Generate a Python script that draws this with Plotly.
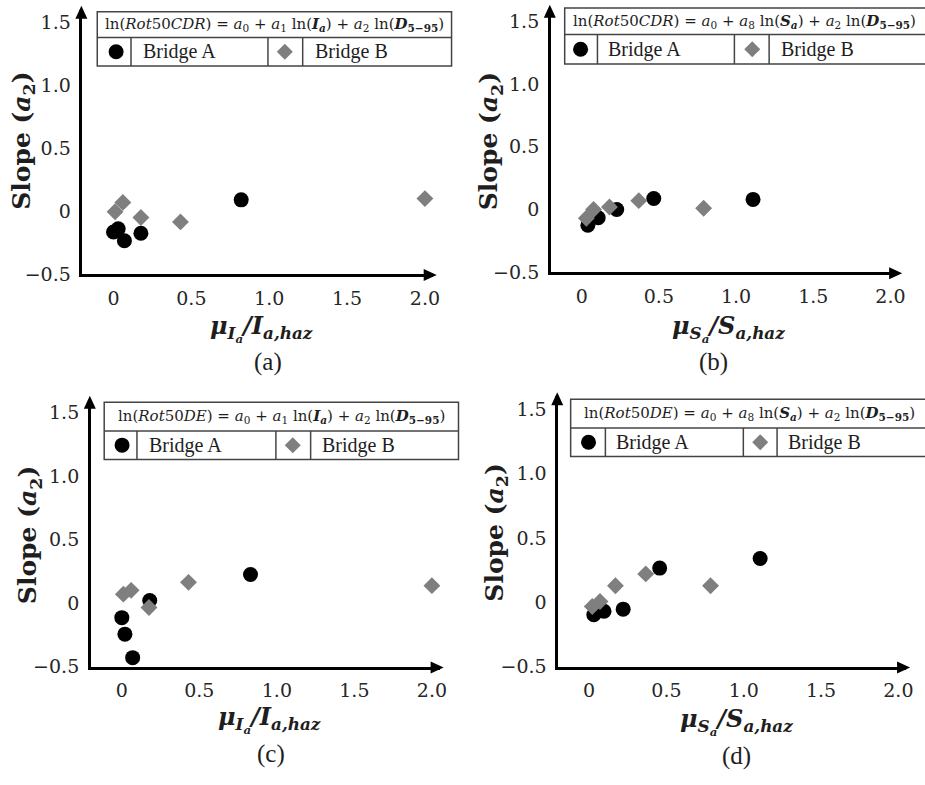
import plotly.graph_objects as go

W, H = 925, 785

# ---------------- data ----------------
a_bridgeA_x = [0.0, 0.03, 0.07, 0.176, 0.82]
a_bridgeA_y = [-0.165, -0.14, -0.235, -0.175, 0.09]
a_bridgeB_x = [0.01, 0.06, 0.176, 0.43, 2.0]
a_bridgeB_y = [-0.005, 0.07, -0.05, -0.085, 0.10]

b_bridgeA_x = [0.04, 0.107, 0.227, 0.467, 1.11]
b_bridgeA_y = [-0.126, -0.066, 0.0, 0.087, 0.08]
b_bridgeB_x = [0.03, 0.077, 0.18, 0.37, 0.79]
b_bridgeB_y = [-0.07, 0.0, 0.02, 0.07, 0.01]

c_bridgeA_x = [0.0, 0.02, 0.07, 0.18, 0.83]
c_bridgeA_y = [-0.115, -0.245, -0.43, 0.02, 0.225]
c_bridgeB_x = [0.01, 0.06, 0.175, 0.43, 2.0]
c_bridgeB_y = [0.07, 0.10, -0.035, 0.163, 0.137]

d_bridgeA_x = [0.03, 0.096, 0.22, 0.456, 1.106]
d_bridgeA_y = [-0.097, -0.07, -0.054, 0.265, 0.34]
d_bridgeB_x = [0.02, 0.07, 0.17, 0.366, 0.785]
d_bridgeB_y = [-0.033, 0.005, 0.128, 0.22, 0.128]

x_tick_vals = [0, 0.5, 1.0, 1.5, 2.0]
x_tick_text = ["0", "0.5", "1.0", "1.5", "2.0"]
y_tick_vals = [-0.5, 0, 0.5, 1.0, 1.5]
y_tick_text = ["\u22120.5", "0", "0.5", "1.0", "1.5"]

series_names = ["Bridge A", "Bridge B"]
panel_labels = ["(a)", "(b)", "(c)", "(d)"]
equations = [
    "ln(<i>Rot</i>50<i>CDR</i>) = <i>a</i><sub>0</sub> + <i>a</i><sub>1</sub> ln(<b><i>I</i></b><sub><b><i>a</i></b></sub>) + <i>a</i><sub>2</sub> ln(<b><i>D</i></b><sub><b>5\u221295</b></sub>)",
    "ln(<i>Rot</i>50<i>CDR</i>) = <i>a</i><sub>0</sub> + <i>a</i><sub>8</sub> ln(<b><i>S</i></b><sub><b><i>a</i></b></sub>) + <i>a</i><sub>2</sub> ln(<b><i>D</i></b><sub><b>5\u221295</b></sub>)",
    "ln(<i>Rot</i>50<i>DE</i>) = <i>a</i><sub>0</sub> + <i>a</i><sub>1</sub> ln(<b><i>I</i></b><sub><b><i>a</i></b></sub>) + <i>a</i><sub>2</sub> ln(<b><i>D</i></b><sub><b>5\u221295</b></sub>)",
    "ln(<i>Rot</i>50<i>DE</i>) = <i>a</i><sub>0</sub> + <i>a</i><sub>8</sub> ln(<b><i>S</i></b><sub><b><i>a</i></b></sub>) + <i>a</i><sub>2</sub> ln(<b><i>D</i></b><sub><b>5\u221295</b></sub>)",
]
x_titles = [
    "<b><i>\u03bc<sub>I<sub>a</sub></sub>/I<sub>a,haz</sub></i></b>",
    "<b><i>\u03bc<sub>S<sub>a</sub></sub>/S<sub>a,haz</sub></i></b>",
    "<b><i>\u03bc<sub>I<sub>a</sub></sub>/I<sub>a,haz</sub></i></b>",
    "<b><i>\u03bc<sub>S<sub>a</sub></sub>/S<sub>a,haz</sub></i></b>",
]
y_title = "<b>Slope (<i>a</i><sub>2</sub>)</b>"

data = [
    (a_bridgeA_x, a_bridgeA_y, a_bridgeB_x, a_bridgeB_y),
    (b_bridgeA_x, b_bridgeA_y, b_bridgeB_x, b_bridgeB_y),
    (c_bridgeA_x, c_bridgeA_y, c_bridgeB_x, c_bridgeB_y),
    (d_bridgeA_x, d_bridgeA_y, d_bridgeB_x, d_bridgeB_y),
]

# ---------------- layout geometry (page pixels) ----------------
panels_px = [
    (83, 436, 278, 10),
    (555, 905, 276, 9),
    (91.5, 443, 676, 405.5),
    (562.5, 913, 676, 402),
]
legend_px = [
    dict(l=98, r=455, t=12, m=38, b=67, d=[132, 270, 305], cx=117, dx=287, ta=142, tb=315, eq=104),
    dict(l=569, r=940, t=8, m=35, b=65, d=[602, 740, 775], cx=585, dx=758, ta=611, tb=785, eq=575),
    dict(l=105, r=462, t=408, m=437, b=466, d=[138, 278, 313], cx=123, dx=295, ta=148, tb=322, eq=117),
    dict(l=575, r=940, t=405, m=434, b=463, d=[610, 749, 783], cx=593, dx=766, ta=619, tb=792, eq=586),
]
xtitle_px = [(263, 333), (734, 333), (272, 730), (742, 732)]
ytitle_px = [(23, 143), (494, 143), (30, 543), (500, 540)]
plabel_px = [(270, 367), (719, 367), (273, 765), (742, 767)]


def px(x):
    return x / W


def py(y):
    return 1 - y / H


SERIF = "DejaVu Serif"
TICK_FONT = dict(family=SERIF, size=19, color="#262626")
TXT = "#1e1e1e"
colors = ["#000000", "#7f7f7f"]

fig = go.Figure()
shapes = []
annotations = []

for i in range(4):
    xa = "x" if i == 0 else f"x{i+1}"
    ya = "y" if i == 0 else f"y{i+1}"
    ax, ay, bx, by = data[i]
    fig.add_trace(go.Scatter(x=ax, y=ay, mode="markers", name=series_names[0], xaxis=xa, yaxis=ya,
                             marker=dict(symbol="circle", size=15, color=colors[0]), showlegend=False,
                             cliponaxis=False))
    fig.add_trace(go.Scatter(x=bx, y=by, mode="markers", name=series_names[1], xaxis=xa, yaxis=ya,
                             marker=dict(symbol="diamond", size=13, color=colors[1]), showlegend=False,
                             cliponaxis=False))
    l, r, b, t = panels_px[i]
    axis_common = dict(showline=True, linewidth=2.5, linecolor="black", showgrid=False, zeroline=False,
                       ticks="", tickfont=TICK_FONT, fixedrange=True)
    fig.layout[("xaxis" if i == 0 else f"xaxis{i+1}")] = dict(
        domain=[px(l), px(r)], range=[-0.2, 2.05], anchor=ya,
        tickvals=x_tick_vals, ticktext=x_tick_text, ticklabelstandoff=5, **axis_common)
    fig.layout[("yaxis" if i == 0 else f"yaxis{i+1}")] = dict(
        domain=[py(b), py(t)], range=[-0.5, 1.6], anchor=xa,
        tickvals=y_tick_vals, ticktext=y_tick_text, ticklabelstandoff=5, **axis_common)

    # axis arrowheads (triangles at the end of each axis line)
    shapes.append(dict(type="path", xref=f"{xa} domain", yref=f"{ya} domain",
                       xsizemode="pixel", ysizemode="pixel", xanchor=1.0, yanchor=0,
                       path="M 4 -1 L -9 5 L -9 -7 Z", fillcolor="black", line=dict(width=0)))
    shapes.append(dict(type="path", xref=f"{xa} domain", yref=f"{ya} domain",
                       xsizemode="pixel", ysizemode="pixel", xanchor=0, yanchor=1.0,
                       path="M -1 4 L 5 -9 L -7 -9 Z", fillcolor="black", line=dict(width=0)))

    # legend table
    lg = legend_px[i]
    line = dict(color="#444444", width=1.5)
    shapes.append(dict(type="rect", xref="paper", yref="paper", x0=px(lg["l"]), x1=px(lg["r"]),
                       y0=py(lg["b"]), y1=py(lg["t"]), line=line, fillcolor="white", layer="above"))
    shapes.append(dict(type="line", xref="paper", yref="paper", x0=px(lg["l"]), x1=px(lg["r"]),
                       y0=py(lg["m"]), y1=py(lg["m"]), line=line))
    for dvx in lg["d"]:
        shapes.append(dict(type="line", xref="paper", yref="paper", x0=px(dvx), x1=px(dvx),
                           y0=py(lg["b"]), y1=py(lg["m"]), line=line))
    rowc = (lg["m"] + lg["b"]) / 2
    shapes.append(dict(type="circle", xref="paper", yref="paper", xsizemode="pixel", ysizemode="pixel",
                       xanchor=px(lg["cx"]), yanchor=py(rowc), x0=-7.5, x1=7.5, y0=-7.5, y1=7.5,
                       fillcolor=colors[0], line=dict(width=0)))
    shapes.append(dict(type="path", xref="paper", yref="paper", xsizemode="pixel", ysizemode="pixel",
                       xanchor=px(lg["dx"]), yanchor=py(rowc),
                       path="M 0 -8 L 8 0 L 0 8 L -8 0 Z", fillcolor=colors[1], line=dict(width=0)))
    annotations.append(dict(xref="paper", yref="paper", x=px(lg["ta"]), y=py(rowc), text=series_names[0],
                            showarrow=False, xanchor="left", yanchor="middle",
                            font=dict(family="Liberation Serif", size=20, color=TXT)))
    annotations.append(dict(xref="paper", yref="paper", x=px(lg["tb"]), y=py(rowc), text=series_names[1],
                            showarrow=False, xanchor="left", yanchor="middle",
                            font=dict(family="Liberation Serif", size=20, color=TXT)))
    annotations.append(dict(xref="paper", yref="paper", x=px(lg["eq"]), y=py((lg["t"] + lg["m"]) / 2),
                            text=equations[i], showarrow=False, xanchor="left", yanchor="middle",
                            font=dict(family=SERIF, size=15, color=TXT)))

    # axis titles and panel labels
    annotations.append(dict(xref="paper", yref="paper", x=px(xtitle_px[i][0]), y=py(xtitle_px[i][1]),
                            text=x_titles[i], showarrow=False, xanchor="center", yanchor="middle",
                            font=dict(family=SERIF, size=24, color=TXT)))
    annotations.append(dict(xref="paper", yref="paper", x=px(ytitle_px[i][0]), y=py(ytitle_px[i][1]),
                            text=y_title, showarrow=False, xanchor="center", yanchor="middle", textangle=-90,
                            font=dict(family=SERIF, size=25, color=TXT)))
    annotations.append(dict(xref="paper", yref="paper", x=px(plabel_px[i][0]), y=py(plabel_px[i][1]),
                            text=panel_labels[i], showarrow=False, xanchor="center", yanchor="middle",
                            font=dict(family="Liberation Serif", size=25, color=TXT)))

fig.update_layout(width=W, height=H, autosize=False, margin=dict(l=0, r=0, t=0, b=0, pad=0),
                  paper_bgcolor="white", plot_bgcolor="white", showlegend=False,
                  shapes=shapes, annotations=annotations)

# remove the browser's default page margin so the figure sits exactly at the page origin
fig.write_html("out.html", config={"displayModeBar": False},
               post_script="document.body.style.margin='0';document.body.style.overflow='hidden';")
